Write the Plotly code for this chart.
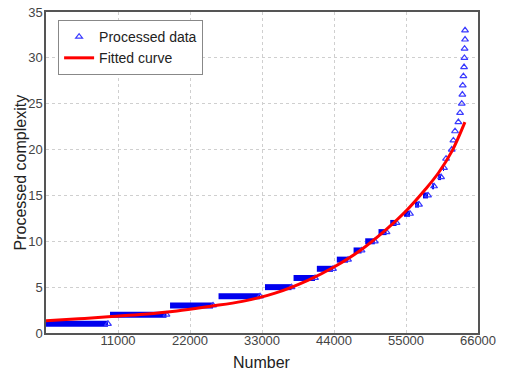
import plotly.graph_objects as go

# Step levels of processed data (value, first x, last x)
step_levels = [1, 2, 3, 4, 5, 6, 7, 8, 9, 10, 11, 12, 13, 14, 15, 16, 17, 18, 19]
step_start = [0, 9780, 18950, 26360, 33460, 37820, 41380, 44430, 46990, 48770,
              50800, 52590, 54700, 56380, 57600, 58980, 59900, 60660, 61120]
step_end = [9470, 18410, 25520, 32700, 37510, 41100, 43850, 46150, 48210, 50240,
            52030, 53560, 55620, 56990, 58370, 59290, 60360, 60810, 61120]

# Isolated processed points at the top end
single_x = [61990, 62240, 62490, 63000, 63260, 63520, 63610, 63670, 63770,
            63870, 63920, 63950, 64020, 64020]
single_y = [20, 21, 22, 23, 24, 25, 26, 27, 28, 29, 30, 31, 32, 33]

# Fitted curve
fit_x = [0, 5000, 10000, 15000, 20000, 25000, 30000, 35000, 40000, 44000,
         48000, 52000, 55000, 58000, 60000, 62000, 64000]
fit_y = [1.34, 1.55, 1.8, 2.05, 2.4, 2.9, 3.45, 4.35, 5.75, 7.2,
         9.0, 11.3, 13.3, 15.7, 17.5, 19.8, 23.0]

x_ticks = [11000, 22000, 33000, 44000, 55000, 66000]
y_ticks = [0, 5, 10, 15, 20, 25, 30, 35]

FONT = "Liberation Sans, Arial, sans-serif"

seg_x, seg_y = [], []
for lv, s, e in zip(step_levels, step_start, step_end):
    seg_x += [s, e, None]
    seg_y += [lv, lv, None]

mk_x = list(step_end) + single_x
mk_y = list(step_levels) + single_y

fig = go.Figure()
fig.add_trace(go.Scatter(x=seg_x, y=seg_y, mode="lines",
                         line=dict(color="#0000ee", width=6),
                         showlegend=False, hoverinfo="skip"))
fig.add_trace(go.Scatter(x=mk_x, y=mk_y, mode="markers", name="Processed data",
                         marker=dict(symbol="triangle-up-open", size=6,
                                     color="#3a3aff", line=dict(width=1.2))))
fig.add_trace(go.Scatter(x=fit_x, y=fit_y, mode="lines", name="Fitted curve",
                         line=dict(color="#ff0000", width=3, shape="spline")))

axis_common = dict(showline=True, mirror=True, linecolor="#555555", linewidth=1.5,
                   showgrid=True, gridcolor="#cfcfcf", griddash="dot", gridwidth=1,
                   zeroline=False, ticks="", automargin=False,
                   tickfont=dict(family=FONT, size=13, color="#444444"))

fig.update_xaxes(range=[0, 66000], tickvals=x_ticks, ticktext=[str(v) for v in x_ticks],
                 ticklabelstandoff=-5, **axis_common)
fig.update_yaxes(range=[0, 35], tickvals=y_ticks, ticklabelstandoff=-1, **axis_common)

fig.add_annotation(text="Number", xref="paper", yref="paper", x=0.5, y=-0.092,
                   xanchor="center", yanchor="middle", showarrow=False,
                   font=dict(family=FONT, size=16, color="#222222"))
fig.add_annotation(text="Processed complexity", xref="paper", yref="paper",
                   x=-0.058, y=0.5, xanchor="center", yanchor="middle", textangle=-90,
                   showarrow=False, font=dict(family=FONT, size=16, color="#222222"))

fig.update_layout(
    width=507, height=374,
    margin=dict(l=46, r=29, t=12, b=41),
    paper_bgcolor="white", plot_bgcolor="white",
    showlegend=True,
    legend=dict(x=0.028, y=0.975, xanchor="left", yanchor="top",
                bgcolor="white", bordercolor="#888888", borderwidth=1,
                font=dict(family=FONT, size=14, color="#222222"),
                tracegroupgap=0, itemwidth=30),
)

fig.write_html("out.html", config={"displayModeBar": False},
               post_script="document.body.style.margin='0px';document.body.style.overflow='hidden';")
